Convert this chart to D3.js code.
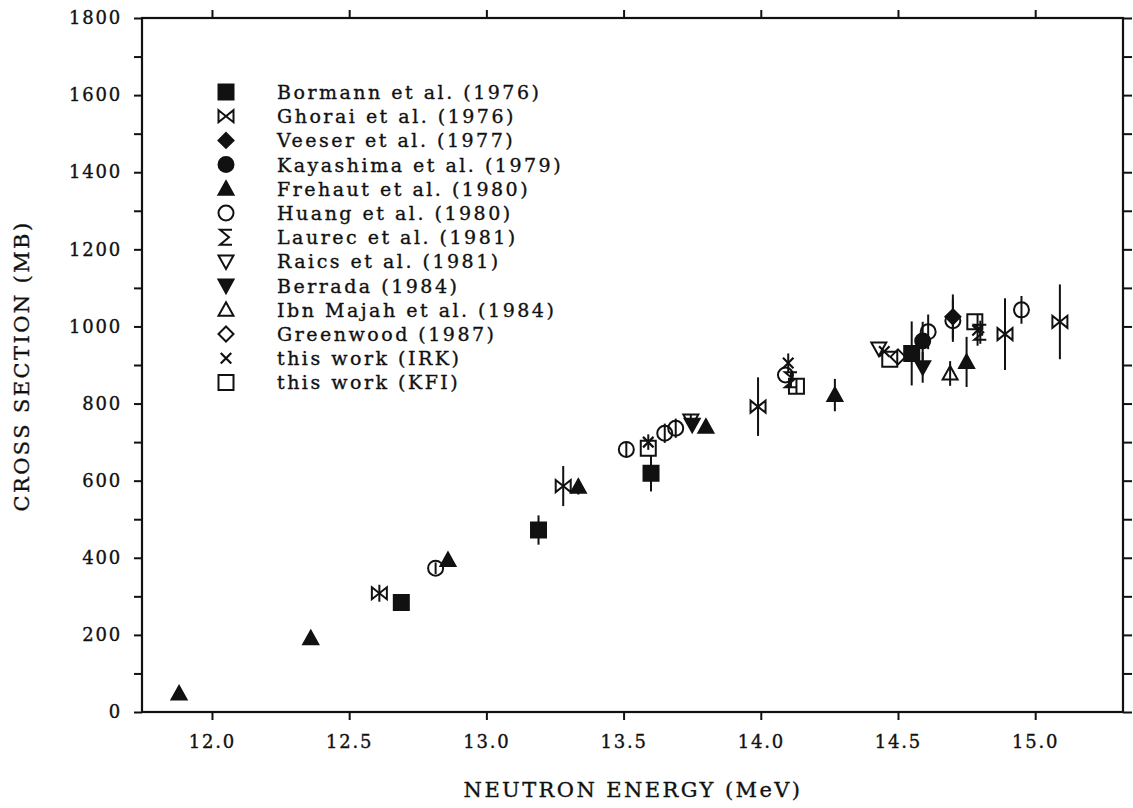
<!DOCTYPE html>
<html>
<head>
<meta charset="utf-8">
<script src="https://cdn.jsdelivr.net/npm/d3@7"></script>
<style>
  body { margin: 0; background: #fff; }
  svg text { font-family: "DejaVu Serif", "Liberation Serif", serif; fill: #111; stroke: #111; stroke-width: 0.35px; }
</style>
</head>
<body>
<div id="chart"></div>
<script>
// data: [energy MeV, cross section mb, error mb]
const bormann   = [[12.69, 284, 10], [13.19, 472, 38], [13.60, 619, 47], [14.55, 930, 83]];
const ghorai    = [[12.61, 308, 22], [13.28, 586, 52], [13.99, 792, 76], [14.89, 980, 93], [15.09, 1012, 97]];
const veeser    = [[14.70, 1025, 58]];
const kayashima = [[14.59, 962, 50]];
const frehaut   = [[11.88, 48, 0], [12.36, 191, 0], [12.86, 394, 0], [13.335, 584, 20], [13.80, 740, 15], [14.27, 822, 42], [14.75, 908, 65]];
const huang     = [[12.815, 373, 15], [13.51, 681, 20], [13.65, 723, 25], [13.69, 736, 25], [14.09, 874, 0], [14.61, 986, 45], [14.70, 1015, 55], [14.95, 1043, 36]];
const laurec    = [[14.11, 862, 20], [14.80, 985, 30]];
const raics     = [[13.745, 756, 15], [14.43, 943, 0]];
const berrada   = [[13.75, 745, 0], [14.59, 894, 40]];
const ibnMajah  = [[14.69, 878, 32]];
const greenwood = [[14.50, 921, 0]];
const irk       = [[13.59, 700, 20], [14.10, 905, 25], [14.45, 935, 0], [14.79, 990, 40]];
const kfi       = [[13.59, 684, 0], [14.13, 845, 20], [14.47, 915, 0], [14.78, 1012, 0]];

const seriesNames = [
  "Bormann et al. (1976)", "Ghorai et al. (1976)", "Veeser et al. (1977)",
  "Kayashima et al. (1979)", "Frehaut et al. (1980)", "Huang et al. (1980)",
  "Laurec et al. (1981)", "Raics et al. (1981)", "Berrada (1984)",
  "Ibn Majah et al. (1984)", "Greenwood (1987)", "this work (IRK)", "this work (KFI)"
];
const seriesData = [bormann, ghorai, veeser, kayashima, frehaut, huang, laurec, raics, berrada, ibnMajah, greenwood, irk, kfi];
const seriesSymbols = ["squareF", "bowtie", "diamondF", "circleF", "triUpF", "circleO", "sigma", "triDownO", "triDownF", "triUpO", "diamondO", "times", "squareO"];

const energyTicks = [12.0, 12.5, 13.0, 13.5, 14.0, 14.5, 15.0];
const crossTicks = [0, 200, 400, 600, 800, 1000, 1200, 1400, 1600, 1800];
const crossMinor = d3.range(0, 1801, 100);

const W = 1133, H = 808;
const m = { left: 142, right: 1123, top: 18, bottom: 712 };

const x = d3.scaleLinear().domain([11.745, 15.32]).range([m.left, m.right]);
const y = d3.scaleLinear().domain([0, 1800]).range([m.bottom, m.top]);

const svg = d3.select("#chart").append("svg").attr("width", W).attr("height", H);

// symbol shapes, r = half size
function symbolPath(kind, r) {
  const p = d3.path();
  switch (kind) {
    case "squareF": case "squareO":
      p.rect(-r, -r, 2 * r, 2 * r); break;
    case "circleF": case "circleO":
      p.moveTo(r, 0); p.arc(0, 0, r, 0, 2 * Math.PI); break;
    case "diamondF": case "diamondO":
      p.moveTo(0, -r); p.lineTo(r, 0); p.lineTo(0, r); p.lineTo(-r, 0); p.closePath(); break;
    case "triUpF": case "triUpO":
      p.moveTo(0, -r); p.lineTo(r, r * 0.8); p.lineTo(-r, r * 0.8); p.closePath(); break;
    case "triDownF": case "triDownO":
      p.moveTo(-r, -r * 0.8); p.lineTo(r, -r * 0.8); p.lineTo(0, r); p.closePath(); break;
    case "bowtie":
      p.moveTo(-r, -r * 0.8); p.lineTo(r, r * 0.8); p.lineTo(r, -r * 0.8); p.lineTo(-r, r * 0.8); p.closePath(); break;
    case "sigma":
      p.moveTo(r * 0.8, -r); p.lineTo(-r * 0.8, -r); p.lineTo(r * 0.4, 0); p.lineTo(-r * 0.8, r); p.lineTo(r * 0.8, r); break;
    case "times":
      p.moveTo(-r * 0.7, -r * 0.7); p.lineTo(r * 0.7, r * 0.7); p.moveTo(r * 0.7, -r * 0.7); p.lineTo(-r * 0.7, r * 0.7); break;
  }
  return p.toString();
}
const filled = k => k.endsWith("F");

function drawSymbol(g, kind, r) {
  g.append("path")
    .attr("d", symbolPath(kind, r))
    .attr("fill", filled(kind) ? "#111" : "none")
    .attr("stroke", "#111")
    .attr("stroke-width", kind === "times" ? 2.2 : 2);
}

// axes
const axes = svg.append("g");
axes.append("rect")
  .attr("x", m.left).attr("y", m.top)
  .attr("width", m.right - m.left).attr("height", m.bottom - m.top)
  .attr("fill", "none").attr("stroke", "#111").attr("stroke-width", 2.2);

const xb = axes.append("g").attr("transform", `translate(0,${m.bottom})`)
  .call(d3.axisBottom(x).tickValues(energyTicks).tickSize(8).tickPadding(15).tickFormat(d3.format(".1f")));
const xt = axes.append("g").attr("transform", `translate(0,${m.top})`)
  .call(d3.axisTop(x).tickValues(energyTicks).tickSize(8).tickFormat(""));
const yl = axes.append("g").attr("transform", `translate(${m.left},0)`)
  .call(d3.axisLeft(y).tickValues(crossMinor).tickSize(8).tickPadding(12)
    .tickFormat(d => crossTicks.includes(d) ? d : ""));
const yr = axes.append("g").attr("transform", `translate(${m.right},0)`)
  .call(d3.axisRight(y).tickValues(crossMinor).tickSize(9).tickFormat(""));

[xb, xt, yl, yr].forEach(a => {
  a.select(".domain").remove();
  a.selectAll(".tick line").attr("stroke", "#111").attr("stroke-width", 2);
  a.selectAll(".tick text").attr("font-size", 18).attr("letter-spacing", 1.8)
    .style("font-family", '"DejaVu Serif", serif').attr("fill", "#111");
});

svg.append("text")
  .attr("x", 633).attr("y", 797)
  .attr("text-anchor", "middle").attr("font-size", 21).attr("letter-spacing", 2.4)
  .text("NEUTRON ENERGY (MeV)");
svg.append("text")
  .attr("transform", "translate(29,366) rotate(-90)")
  .attr("text-anchor", "middle").attr("font-size", 21).attr("letter-spacing", 2.4)
  .text("CROSS SECTION (MB)");

// data: error bars then symbols
const plot = svg.append("g");
seriesData.forEach((pts, i) => {
  const kind = seriesSymbols[i];
  pts.forEach(([e, s, err]) => {
    if (err > 0) {
      plot.append("line")
        .attr("x1", x(e)).attr("x2", x(e))
        .attr("y1", y(s - err)).attr("y2", y(s + err))
        .attr("stroke", "#111").attr("stroke-width", 2);
    }
    const g = plot.append("g").attr("transform", `translate(${x(e)},${y(s)})`);
    drawSymbol(g, kind, 7.5);
  });
});

// legend
const legend = svg.append("g");
seriesNames.forEach((name, i) => {
  const ly = 92 + i * 24.2;
  const g = legend.append("g").attr("transform", `translate(226,${ly})`);
  drawSymbol(g, seriesSymbols[i], 7.5);
  legend.append("text")
    .attr("x", 277).attr("y", ly + 7)
    .attr("font-size", 19).attr("letter-spacing", 2.5)
    .text(name);
});
</script>
</body>
</html>
